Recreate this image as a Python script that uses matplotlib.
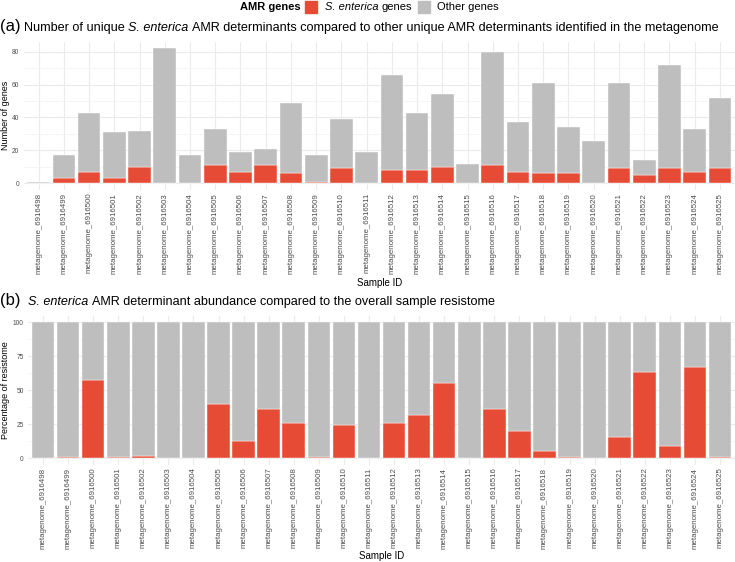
import matplotlib
matplotlib.use('Agg')
import matplotlib.pyplot as plt
from matplotlib.patches import Rectangle
import numpy as np

plt.rcParams['font.family'] = ['Liberation Sans', 'DejaVu Sans']

# sample ids
sample_num = list(range(6916498, 6916526))
samples = [f'metagenome_{n}' for n in sample_num]

# panel (a): number of unique AMR determinants
total_genes = [1, 17, 43, 31, 32, 82, 17, 33, 19, 21, 49, 17, 39, 19,
               66, 43, 54, 12, 80, 37, 61, 34, 26, 61, 14, 72, 33, 52]
sent_genes = [0, 3, 7, 3, 10, 0, 0, 11, 7, 11, 6, 1, 9, 0,
              8, 8, 10, 0, 11, 7, 6, 6, 0, 9, 5, 9, 7, 9]
other_genes = [t - s for t, s in zip(total_genes, sent_genes)]

# panel (b): % of resistome from S. enterica
sent_pct = [0, 0.5, 57.3, 0.5, 1.2, 0, 0, 39.6, 12.5, 36.1, 25.8, 1.0, 24.1, 0,
            25.8, 31.7, 55.0, 0, 36.1, 19.7, 5.4, 0.7, 0, 15.7, 63.6, 9.1, 67.3, 0.8]
other_pct = [100 - p for p in sent_pct]

RED = '#E64B35'
GREY = '#BEBEBE'
W, H = 735, 562

fig = plt.figure(figsize=(W / 100, H / 100), dpi=100)


def px_axes(l, t, r, b):
    return fig.add_axes([l / W, 1 - b / H, (r - l) / W, (b - t) / H])


def style_ax(ax, ymaj, ymin, ylim):
    x = np.arange(len(samples))
    ax.set_xlim(-0.6, len(samples) - 0.4)
    ax.set_ylim(*ylim)
    ax.set_yticks(ymaj)
    ax.set_yticks(ymin, minor=True)
    ax.set_xticks(x)
    ax.set_xticklabels(samples, rotation=90, fontsize=5.7, color='#4D4D4D')
    ax.tick_params(axis='both', which='both', length=0, pad=2)
    ax.tick_params(axis='y', labelsize=4.8, labelcolor='#4D4D4D', pad=3)
    ax.grid(True, which='major', color='#EBEBEB', lw=0.8)
    ax.grid(True, which='minor', axis='y', color='#F2F2F2', lw=0.5)
    ax.set_axisbelow(True)
    for s in ax.spines.values():
        s.set_visible(False)


x = np.arange(len(samples))

ax1 = px_axes(23.5, 41.7, 735, 190)
ax1.bar(x, sent_genes, width=0.9, color=RED, edgecolor='white', lw=0.3)
ax1.bar(x, other_genes, bottom=sent_genes, width=0.9, color=GREY, edgecolor='white', lw=0.3)
style_ax(ax1, [0, 20, 40, 60, 80], [10, 30, 50, 70], (-4.1, 86.1))

ax2 = px_axes(28, 315.6, 735, 464.8)
ax2.bar(x, sent_pct, width=0.9, color=RED, edgecolor='white', lw=0.3)
ax2.bar(x, other_pct, bottom=sent_pct, width=0.9, color=GREY, edgecolor='white', lw=0.3)
style_ax(ax2, [0, 25, 50, 75, 100], [12.5, 37.5, 62.5, 87.5], (-5, 105))

# overlay in pixel coords for titles / legend
ov = fig.add_axes([0, 0, 1, 1], zorder=5)
ov.set_xlim(0, W)
ov.set_ylim(H, 0)
ov.axis('off')
ov.patch.set_alpha(0)

rend = fig.canvas.get_renderer()


def width_of(s, **kw):
    t = ov.text(0, 0, s, **kw)
    w = t.get_window_extent(rend).width
    t.remove()
    return w


def rich(x0, y, parts, size, va='baseline', draw=True):
    sp = width_of('x x', fontsize=size) - width_of('xx', fontsize=size)
    xx = x0
    for txt, st, wt in parts:
        if draw:
            t = ov.text(xx, y, txt, fontsize=size, style=st, weight=wt, va=va, ha='left')
            w = t.get_window_extent(rend).width
        else:
            w = width_of(txt, fontsize=size, style=st, weight=wt)
        xx += w + sp
    return xx - sp - x0


title_a = [('Number of unique', 'normal', 'normal'),
           ('S. enterica', 'italic', 'normal'),
           ('AMR determinants compared to other unique AMR determinants identified in the metagenome', 'normal', 'normal')]
title_b = [('S. enterica', 'italic', 'normal'),
           ('AMR determinant abundance compared to the overall sample resistome', 'normal', 'normal')]

# fit title size so panel (a) title spans x=24..720 like the reference
tsize = 9 * 696 / rich(0, 0, title_a, 9, draw=False)

ov.text(0, 31, '(a)', fontsize=12, va='baseline')
rich(24, 31, title_a, tsize)
ov.text(0, 305, '(b)', fontsize=12, va='baseline')
rich(28, 305, title_b, tsize)

# legend
ov.text(240, 6.5, 'AMR genes', fontsize=8, weight='bold', va='center')
ov.add_patch(Rectangle((305, 0.5), 12, 12, color=RED))
rich(325, 6.5, [('S. enterica', 'italic', 'normal'), ('genes', 'normal', 'normal')], 8, va='center')
ov.add_patch(Rectangle((418, 0.5), 12, 12, color=GREY))
ov.text(437, 6.5, 'Other genes', fontsize=8, va='center')

# axis titles
ov.text(6, (41.7 + 190) / 2, 'Number of genes', fontsize=6.5, rotation=90, ha='center', va='center')
ov.text(6, (315.6 + 464.8) / 2, 'Percentage of resistome', fontsize=6.5, rotation=90, ha='center', va='center')
ov.text((23.5 + 735) / 2, 283, 'Sample ID', fontsize=7, ha='center', va='center')
ov.text((28 + 735) / 2, 556, 'Sample ID', fontsize=7, ha='center', va='center')

fig.savefig('out.png', dpi=100)
